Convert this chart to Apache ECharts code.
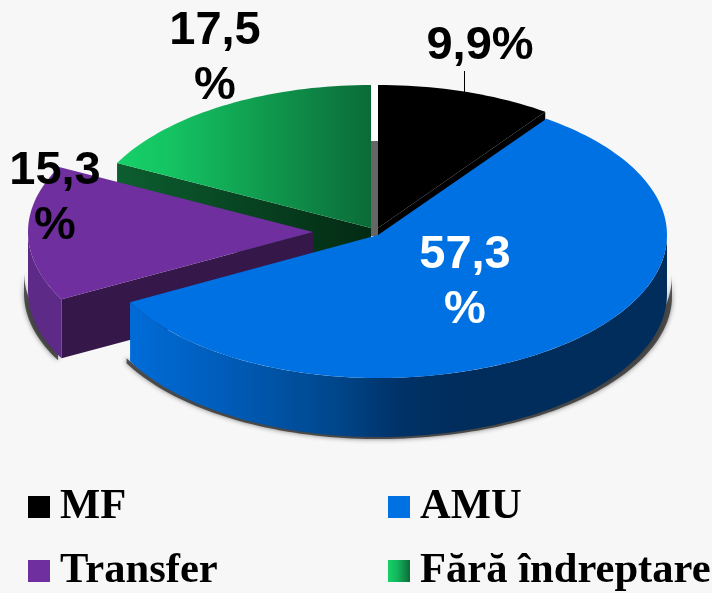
<!DOCTYPE html>
<html>
<head>
<meta charset="utf-8">
<style>html,body{margin:0;padding:0;background:#f7f7f7}#c{width:712px;height:593px}</style>
<script src="https://cdn.jsdelivr.net/npm/echarts@6/dist/echarts.min.js"></script>
</head>
<body>
<div id="c"></div>
<script>
const categories = ['MF', 'AMU', 'Transfer', 'Fără îndreptare'];
const values = [9.9, 57.3, 15.3, 17.5];
const labelTexts = ['9,9%', '57,3\n%', '15,3\n%', '17,5\n%'];
const labelColors = ['#000000', '#ffffff', '#000000', '#000000'];

const DEPTH = 59;
const RY = 143;
const sliceLayout = [
  { cx: 378, cy: 228, rl: 285, rr: 287, lx: 480, ly: 46 },
  { cx: 378, cy: 235, rl: 281, rr: 289, lx: 465, ly: 283 },
  { cx: 313, cy: 232, rl: 285, rr: 289, lx: 55, ly: 199 },
  { cx: 371, cy: 228, rl: 285, rr: 289, lx: 215, ly: 59 }
];
const legendLayout = [
  { left: 28, top: 485 }, { left: 388, top: 485 }, { left: 28, top: 549 }, { left: 388, top: 549 }
];
const G = (x0, x1, stops) => new echarts.graphic.LinearGradient(x0, 0, x1, 0,
  stops.map(c => ({ offset: c[0], color: c[1] })), true);
const paints = [
  { top: '#000000', wall: '#000000', face: '#000000', legend: '#000000' },
  { top: '#0071e3',
    wall: G(130, 667, [[0, '#006cd8'], [0.2, '#005ab4'], [0.38, '#00478c'], [0.5, '#003268'], [0.6, '#002d5c'], [1, '#002d5c']]),
    face: '#0060c0', legend: '#0071e3', shadow: [40, 56] },
  { top: '#6f2f9e', wall: '#5e2a88', face: '#35174a', legend: '#6f2f9e', shadow: [40, 40] },
  { top: G(118, 371, [[0, '#16d068'], [0.2, '#14c462'], [1, '#0b6b38']]),
    wall: '#0b5a2e',
    face: G(118, 371, [[0, '#0c5e30'], [1, '#032a13']]),
    legend: new echarts.graphic.LinearGradient(0, 0, 1, 0, [
      { offset: 0, color: '#16d068' }, { offset: 0.4, color: '#14b85c' }, { offset: 1, color: '#0b6b38' }]) }
];

const total = values.reduce((a, b) => a + b, 0);
const starts = [];
values.reduce((acc, v, i) => { starts[i] = acc / total * 360; return acc + v; }, 0);

function pt(l, deg, dz) {
  const r = deg * Math.PI / 180, s = Math.sin(r);
  return [l.cx + s * (s < 0 ? l.rl : l.rr), l.cy - Math.cos(r) * RY + (dz || 0)];
}
function arc(l, a, b, dz0, dz1) {
  const out = [], n = Math.max(2, Math.ceil(Math.abs(b - a) / 1.5));
  const e = dz1 === undefined ? dz0 : dz1;
  for (let k = 0; k <= n; k++) out.push(pt(l, a + (b - a) * k / n, dz0 + (e - dz0) * k / n));
  return out;
}

function renderSlice(i) {
  const l = sliceLayout[i], p = paints[i];
  const a = starts[i], b = a + values[i] / total * 360;
  const tip = [l.cx, l.cy], tipB = [l.cx, l.cy + DEPTH];
  const children = [];
  const wa = Math.max(a, 90), wb = Math.min(b, 270);
  if (wb > wa) {
    const top = arc(l, wa, wb, 0), bot = arc(l, wa, wb, DEPTH);
    if (p.shadow) {
      const sl = Object.assign({}, l, { rl: l.rl + 4, rr: l.rr + 5 });
      children.push({ type: 'polygon', shape: { points: arc(sl, wa, wb, p.shadow[0], p.shadow[1]).concat(arc(sl, wa, wb, DEPTH + 2).reverse()) },
        style: { fill: 'rgba(50,50,50,0.8)', shadowBlur: 5, shadowColor: 'rgba(50,50,50,0.8)' } });
    }
    children.push({ type: 'polygon', shape: { points: top.concat(bot.reverse()) }, style: { fill: p.wall } });
  }
  if (Math.sin(a * Math.PI / 180) < -1e-6) {
    children.push({ type: 'polygon', shape: { points: [tip, pt(l, a, 0), pt(l, a, DEPTH), tipB] }, style: { fill: p.face } });
  }
  if (Math.sin(b * Math.PI / 180) > 1e-6) {
    children.push({ type: 'polygon', shape: { points: [tip, pt(l, b, 0), pt(l, b, DEPTH), tipB] }, style: { fill: p.face } });
  }
  children.push({ type: 'polygon', shape: { points: [tip].concat(arc(l, a, b, 0)) }, style: { fill: p.top } });
  children.push({ type: 'text', z2: 50, style: {
    x: l.lx, y: l.ly, text: labelTexts[i], fill: labelColors[i], align: 'center', verticalAlign: 'middle',
    fontFamily: '"Liberation Sans", Arial, sans-serif', fontWeight: 'bold', fontSize: 47, lineHeight: 55 } });
  return { type: 'group', children };
}

const seriesOrder = [3, 0, 2, 1];
const chart = echarts.init(document.getElementById('c'), null, { renderer: 'canvas' });
chart.setOption({
  animation: false,
  backgroundColor: '#f7f7f7',
  legend: categories.map((name, i) => ({
    show: true,
    orient: 'horizontal',
    left: legendLayout[i].left,
    top: legendLayout[i].top,
    padding: 0,
    itemWidth: 22,
    itemHeight: 22,
    icon: 'rect',
    selectedMode: false,
    data: [{ name, icon: 'rect' }],
    textStyle: { fontFamily: '"Liberation Serif", "Times New Roman", serif', fontWeight: 'bold',
      fontSize: 42.6, lineHeight: 42, color: '#000', padding: [2, 0, 0, 5] }
  })),
  graphic: { elements: [
    { type: 'rect', z: 0, shape: { x: 371, y: 85, width: 7, height: 56 }, style: { fill: '#ffffff' } },
    { type: 'rect', z: 0, shape: { x: 371, y: 141, width: 7, height: 95 }, style: { fill: '#666666' } },
    { type: 'rect', z: 0, shape: { x: 464, y: 71, width: 1, height: 22 }, style: { fill: '#000000' } }
  ] },
  series: seriesOrder.map((i, order) => ({
    type: 'custom',
    name: categories[i],
    coordinateSystem: 'none',
    silent: true,
    z: 2 + order,
    itemStyle: { color: paints[i].legend },
    data: [values[i]],
    renderItem: () => renderSlice(i)
  }))
});
</script>
</body>
</html>
